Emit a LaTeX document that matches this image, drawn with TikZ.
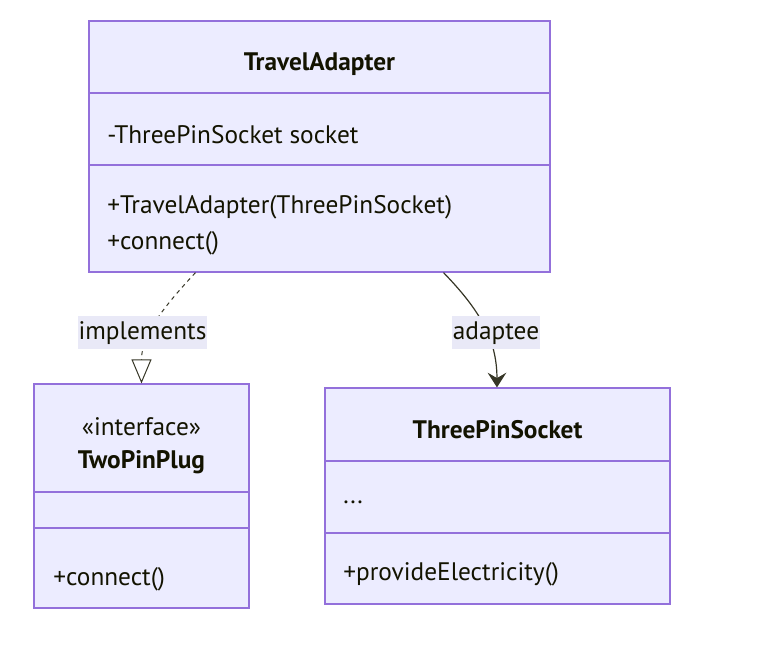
\documentclass[tikz,border=0pt]{standalone}
\usepackage{fontspec}
\setmainfont{PT Sans}
\usetikzlibrary{arrows.meta,fit}
\definecolor{clsfill}{HTML}{ECECFF}
\definecolor{clsline}{HTML}{9370DB}
\definecolor{lblfill}{HTML}{E9E9F7}
\definecolor{ink}{HTML}{131300}

\begin{document}
\begin{tikzpicture}[x=0.75pt, y=-0.75pt, every node/.style={font=\fontsize{19}{22}\selectfont, text=ink},
	cls/.style={draw=clsline, fill=clsfill, line width=0.9pt, inner sep=0pt},
	sep/.style={draw=clsline, line width=0.9pt},
	txt/.style={yshift=-2pt},
	mem/.style={txt, anchor=west, inner sep=0pt},
	lbl/.style={txt, fill=lblfill, inner xsep=0.5pt, inner ysep=1pt, minimum height=24.75pt}]
	\useasboundingbox (0,0) rectangle (757,656);
	% class boxes
	\node[cls, fit={(89,21) (550,272)}] (adapter) {};
	\node[cls, fit={(34,384) (249,608)}] (plug) {};
	\node[cls, fit={(325,388) (670,604)}] (socket) {};
	\draw[sep] (89,93) -- (550,93);
	\draw[sep] (89,165) -- (550,165);
	\draw[sep] (34,492) -- (249,492);
	\draw[sep] (34,528) -- (249,528);
	\draw[sep] (325,461) -- (670,461);
	\draw[sep] (325,533) -- (670,533);
	% texts
	\node[txt] (adapterName) at (319.5,61) {\bfseries TravelAdapter};
	\node[mem] (adapterAttr) at (107,132) {-ThreePinSocket socket};
	\node[mem] (adapterCtor) at (107,205) {+TravelAdapter(ThreePinSocket)};
	\node[mem] (adapterConn) at (107,241) {+connect()};
	\node[txt] (plugStereo) at (141.5,424) {«interface»};
	\node[txt] (plugName) at (141.5,460) {\bfseries TwoPinPlug};
	\node[mem] (plugConn) at (53,577) {+connect()};
	\node[txt] (socketName) at (497.5,427) {\bfseries ThreePinSocket};
	\node[mem] (socketAttr) at (343,500) {...};
	\node[mem] (socketProv) at (343,572) {+provideElectricity()};
	% relations
	\draw[ink!85, line width=0.75pt, dashed, -{Triangle[open, length=18pt, width=15pt]}]
		([xshift=-93pt]adapter.south) to[out=-133, in=90] (plug.north);
	\draw[ink!85, line width=0.9pt, -{Stealth[length=11pt, width=14pt, inset=4pt]}]
		([xshift=93pt]adapter.south) to[out=-46, in=90] ([xshift=-0.4pt]socket.north);
	\node[lbl] (implLbl) at (142.5,330) {implements};
	\node[lbl] (adapteeLbl) at (496,330) {adaptee};
\end{tikzpicture}
\end{document}
